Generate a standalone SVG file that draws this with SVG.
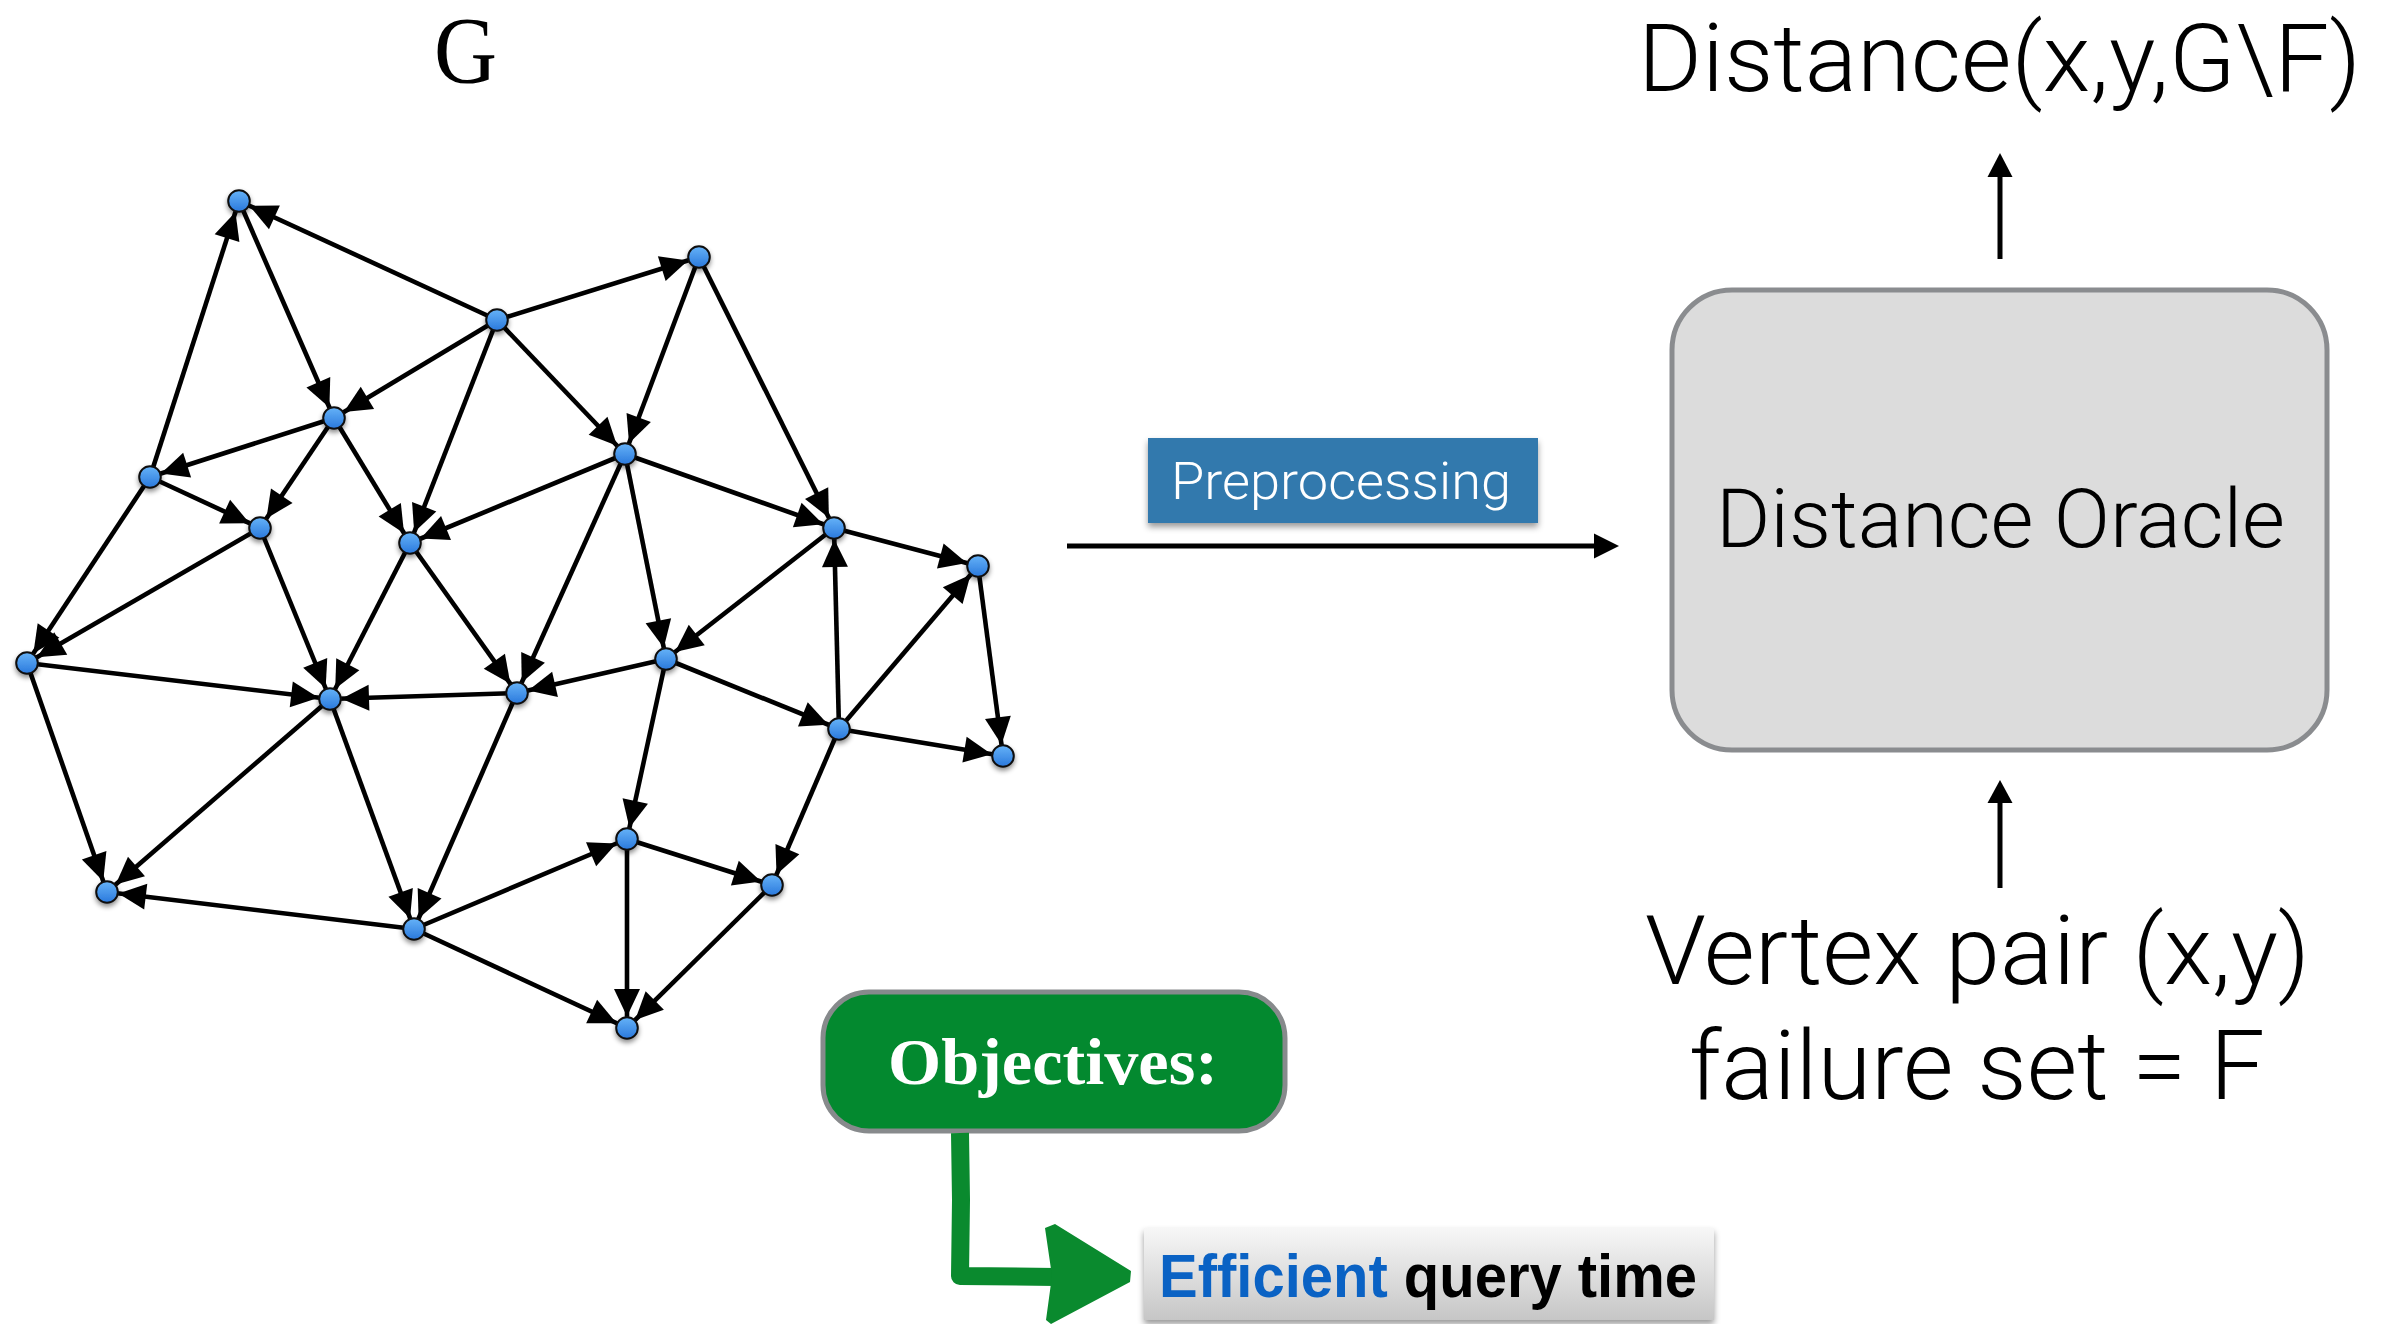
<svg xmlns="http://www.w3.org/2000/svg" width="2396" height="1324" viewBox="0 0 2396 1324">
<defs>
<style>
.e{stroke:#000;stroke-width:4.6;fill:none;marker-end:url(#ah)}
.nd{fill:url(#ng);stroke:#111;stroke-width:2;filter:url(#ns)}
.lt{font-family:Roboto,"Liberation Sans",Arial,sans-serif;font-weight:300;fill:#000}
.ar{stroke:#000;stroke-width:5;fill:none}
</style>
<linearGradient id="ng" x1="0" y1="0" x2="0" y2="1">
<stop offset="0" stop-color="#66b3f8"/>
<stop offset="1" stop-color="#2a78dc"/>
</linearGradient>
<linearGradient id="eg" x1="0" y1="0" x2="0" y2="1">
<stop offset="0" stop-color="#f7f7f7"/>
<stop offset="1" stop-color="#c6c6c6"/>
</linearGradient>
<filter id="ns" x="-60%" y="-60%" width="220%" height="240%">
<feDropShadow dx="0" dy="3" stdDeviation="2.5" flood-color="#000" flood-opacity="0.45"/>
</filter>
<filter id="bs" x="-10%" y="-20%" width="120%" height="150%">
<feDropShadow dx="0" dy="4" stdDeviation="3" flood-color="#000" flood-opacity="0.4"/>
</filter>
<marker id="ah" markerUnits="userSpaceOnUse" viewBox="-42 -15 44 30" refX="0" refY="0" markerWidth="44" markerHeight="30" orient="auto" overflow="visible">
<path d="M-11.5,0 L-39,-13 L-39,13 Z" fill="#000"/>
</marker>
</defs>
<rect width="2396" height="1324" fill="#fff"/>

<g id="label-G"><text x="434" y="83" font-family="'Liberation Serif','Times New Roman',serif" font-size="95" textLength="63" lengthAdjust="spacingAndGlyphs">G</text></g>

<g id="connectors">
<line class="e" x1="497" y1="320" x2="239" y2="201"/>
<line class="e" x1="497" y1="320" x2="699" y2="257"/>
<line class="e" x1="239" y1="201" x2="334" y2="418"/>
<line class="e" x1="150" y1="477" x2="239" y2="201"/>
<line class="e" x1="497" y1="320" x2="334" y2="418"/>
<line class="e" x1="497" y1="320" x2="410" y2="543"/>
<line class="e" x1="497" y1="320" x2="625" y2="454"/>
<line class="e" x1="699" y1="257" x2="625" y2="454"/>
<line class="e" x1="699" y1="257" x2="834" y2="528"/>
<line class="e" x1="334" y1="418" x2="150" y2="477"/>
<line class="e" x1="334" y1="418" x2="260" y2="528"/>
<line class="e" x1="334" y1="418" x2="410" y2="543"/>
<line class="e" x1="625" y1="454" x2="410" y2="543"/>
<line class="e" x1="625" y1="454" x2="834" y2="528"/>
<line class="e" x1="625" y1="454" x2="517" y2="693"/>
<line class="e" x1="625" y1="454" x2="666" y2="659"/>
<line class="e" x1="150" y1="477" x2="260" y2="528"/>
<line class="e" x1="150" y1="477" x2="27" y2="663"/>
<line class="e" x1="260" y1="528" x2="27" y2="663"/>
<line class="e" x1="260" y1="528" x2="330" y2="699"/>
<line class="e" x1="410" y1="543" x2="330" y2="699"/>
<line class="e" x1="410" y1="543" x2="517" y2="693"/>
<line class="e" x1="834" y1="528" x2="978" y2="566"/>
<line class="e" x1="834" y1="528" x2="666" y2="659"/>
<line class="e" x1="839" y1="729" x2="834" y2="528"/>
<line class="e" x1="839" y1="729" x2="978" y2="566"/>
<line class="e" x1="978" y1="566" x2="1003" y2="756"/>
<line class="e" x1="27" y1="663" x2="330" y2="699"/>
<line class="e" x1="27" y1="663" x2="107" y2="892"/>
<line class="e" x1="517" y1="693" x2="330" y2="699"/>
<line class="e" x1="666" y1="659" x2="517" y2="693"/>
<line class="e" x1="666" y1="659" x2="839" y2="729"/>
<line class="e" x1="666" y1="659" x2="627" y2="839"/>
<line class="e" x1="839" y1="729" x2="1003" y2="756"/>
<line class="e" x1="839" y1="729" x2="772" y2="885"/>
<line class="e" x1="330" y1="699" x2="107" y2="892"/>
<line class="e" x1="330" y1="699" x2="414" y2="929"/>
<line class="e" x1="517" y1="693" x2="414" y2="929"/>
<line class="e" x1="414" y1="929" x2="107" y2="892"/>
<line class="e" x1="414" y1="929" x2="627" y2="839"/>
<line class="e" x1="627" y1="839" x2="772" y2="885"/>
<line class="e" x1="627" y1="839" x2="627" y2="1028"/>
<line class="e" x1="772" y1="885" x2="627" y2="1028"/>
<line class="e" x1="414" y1="929" x2="627" y2="1028"/>
</g>

<g id="nodes">
<g id="n-A"><circle class="nd" cx="239" cy="201" r="10.8"/></g>
<g id="n-B"><circle class="nd" cx="699" cy="257" r="10.8"/></g>
<g id="n-C"><circle class="nd" cx="497" cy="320" r="10.8"/></g>
<g id="n-D"><circle class="nd" cx="334" cy="418" r="10.8"/></g>
<g id="n-E"><circle class="nd" cx="625" cy="454" r="10.8"/></g>
<g id="n-F"><circle class="nd" cx="150" cy="477" r="10.8"/></g>
<g id="n-G"><circle class="nd" cx="260" cy="528" r="10.8"/></g>
<g id="n-H"><circle class="nd" cx="410" cy="543" r="10.8"/></g>
<g id="n-I"><circle class="nd" cx="834" cy="528" r="10.8"/></g>
<g id="n-J"><circle class="nd" cx="978" cy="566" r="10.8"/></g>
<g id="n-K"><circle class="nd" cx="27" cy="663" r="10.8"/></g>
<g id="n-L"><circle class="nd" cx="330" cy="699" r="10.8"/></g>
<g id="n-M"><circle class="nd" cx="517" cy="693" r="10.8"/></g>
<g id="n-N"><circle class="nd" cx="666" cy="659" r="10.8"/></g>
<g id="n-O"><circle class="nd" cx="839" cy="729" r="10.8"/></g>
<g id="n-P"><circle class="nd" cx="1003" cy="756" r="10.8"/></g>
<g id="n-Q"><circle class="nd" cx="627" cy="839" r="10.8"/></g>
<g id="n-R"><circle class="nd" cx="772" cy="885" r="10.8"/></g>
<g id="n-S"><circle class="nd" cx="107" cy="892" r="10.8"/></g>
<g id="n-T"><circle class="nd" cx="414" cy="929" r="10.8"/></g>
<g id="n-U"><circle class="nd" cx="627" cy="1028" r="10.8"/></g>
</g>

<g id="preprocessing">
<line class="ar" x1="1067" y1="546" x2="1596" y2="546"/>
<polygon points="1594,533.5 1619,546 1594,558.5" fill="#000"/>
<rect x="1148" y="438" width="390" height="85" fill="#3179ad" filter="url(#bs)"/>
<text x="1171" y="499" class="lt" font-size="52" style="fill:#fff" textLength="340" lengthAdjust="spacingAndGlyphs">Preprocessing</text>
</g>

<g id="oracle">
<rect x="1672" y="290" width="655" height="460" rx="60" ry="60" fill="#dcdcdc" stroke="#8a8c8f" stroke-width="5"/>
<text x="1716" y="547" class="lt" font-size="81" textLength="569" lengthAdjust="spacingAndGlyphs">Distance Oracle</text>
</g>

<g id="output">
<line class="ar" x1="2000" y1="259" x2="2000" y2="175"/>
<polygon points="1987.5,177 2000,153 2012.5,177" fill="#000"/>
<text x="1638" y="91" class="lt" font-size="95" textLength="723" lengthAdjust="spacingAndGlyphs">Distance(x,y,G\F)</text>
</g>

<g id="input">
<line class="ar" x1="2000" y1="888" x2="2000" y2="801"/>
<polygon points="1987.5,803 2000,780 2012.5,803" fill="#000"/>
<text x="1645" y="984" class="lt" font-size="96" textLength="665" lengthAdjust="spacingAndGlyphs">Vertex pair (x,y)</text>
<text x="1689" y="1099" class="lt" font-size="96" textLength="576" lengthAdjust="spacingAndGlyphs">failure set = F</text>
</g>

<g id="objectives">
<rect x="823" y="992" width="462" height="139" rx="46" ry="46" fill="#03892f" stroke="#878a8c" stroke-width="5"/>
<text x="888" y="1084" font-family="'Liberation Serif','Times New Roman',serif" font-weight="bold" font-size="66" fill="#fff" textLength="330" lengthAdjust="spacingAndGlyphs">Objectives:</text>
</g>

<g id="green-arrow">
<path d="M960,1133 L961,1200 L960,1276 L1056,1277" fill="none" stroke="#0a8a2e" stroke-width="18" stroke-linejoin="round"/>
<polygon points="1045,1228 1055,1224 1131,1271 1130,1282 1051,1324 1046,1320 1052,1276" fill="#0a8a2e"/>
</g>

<g id="efficient">
<rect x="1144" y="1228" width="570" height="92" fill="url(#eg)" filter="url(#bs)"/>
<text x="1159" y="1297" font-family="'Liberation Sans Narrow','Liberation Sans',Arial,sans-serif" font-weight="bold" font-size="61" textLength="538" lengthAdjust="spacingAndGlyphs"><tspan fill="#0a62c4">Efficient</tspan><tspan fill="#000"> query time</tspan></text>
</g>
</svg>
